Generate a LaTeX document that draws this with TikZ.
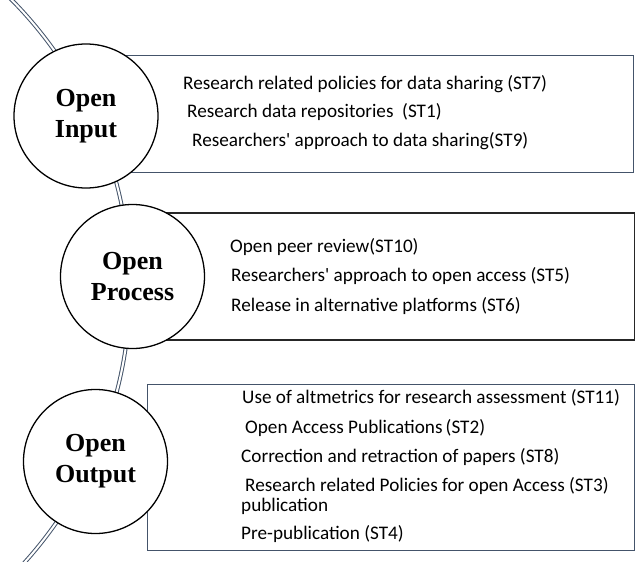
\documentclass[tikz,border=0pt]{standalone}
\usepackage{fontspec}
\setmainfont{Liberation Serif}
\newfontfamily\circfont{Liberation Serif}[UprightFont={* Bold}]
\newfontfamily\bodyfont{Carlito}
\definecolor{slate}{HTML}{44546A}
\tikzset{
  rail/.style={draw=slate, line width=1pt, double=white, double distance=2pt},
  boxslate/.style={draw=slate, line width=1.3pt, fill=white, rectangle, anchor=north west, inner sep=0},
  boxblack/.style={draw=black!85, line width=1.6pt, fill=white, rectangle, anchor=north west, inner sep=0},
  bigcirc/.style={circle, draw=black, line width=1.3pt, fill=white, minimum size=144pt, inner sep=0,
    align=center, font=\circfont\fontsize{26}{31}\selectfont},
  item/.style={anchor=base west, inner sep=0, font=\bodyfont\fontsize{19.2}{22}\selectfont}
}
\begin{document}
\begin{tikzpicture}[x=1pt,y=-1pt]
\useasboundingbox (0,0) rectangle (635,562);
\begin{scope}
\clip (0,0) rectangle (635,562);
\draw[rail] (-280,288) circle[radius=410];
\end{scope}
% boxes
\node[boxslate, minimum width=523pt, minimum height=117pt] (b1) at (110,55) {};
\node[boxblack, minimum width=484pt, minimum height=127pt] (b2) at (150,212) {};
\node[boxslate, minimum width=487pt, minimum height=166pt] (b3) at (147,384) {};
% circles
\node[bigcirc] (c1) at (86,116) {Open\\Input};
\node[bigcirc] (c2) at (132.5,276.5) {Open\\Process};
\node[bigcirc] (c3) at (95.5,461.5) {Open\\Output};
% texts
\node[item] (t1) at (183,89) {Research related policies for data sharing (ST7)};
\node[item] (t2) at (187,117) {Research data repositories\ \ (ST1)};
\node[item] (t3) at (192,146) {Researchers' approach to data sharing(ST9)};
\node[item] (t4) at (230,252) {Open peer review(ST10)};
\node[item] (t5) at (231,281) {Researchers' approach to open access (ST5)};
\node[item] (t6) at (231,311) {Release in alternative platforms (ST6)};
\node[item] (t7) at (242,403) {Use of altmetrics for research assessment (ST11)};
\node[item] (t8) at (245,433) {Open Access Publications\,(ST2)};
\node[item] (t9) at (241,462) {Correction and retraction of papers (ST8)};
\node[item] (t10) at (245,491) {Research related Policies for open Access (ST3)};
\node[item] (t10b) at (241,511) {publication};
\node[item] (t11) at (241,539) {Pre-publication (ST4)};
\end{tikzpicture}
\end{document}
